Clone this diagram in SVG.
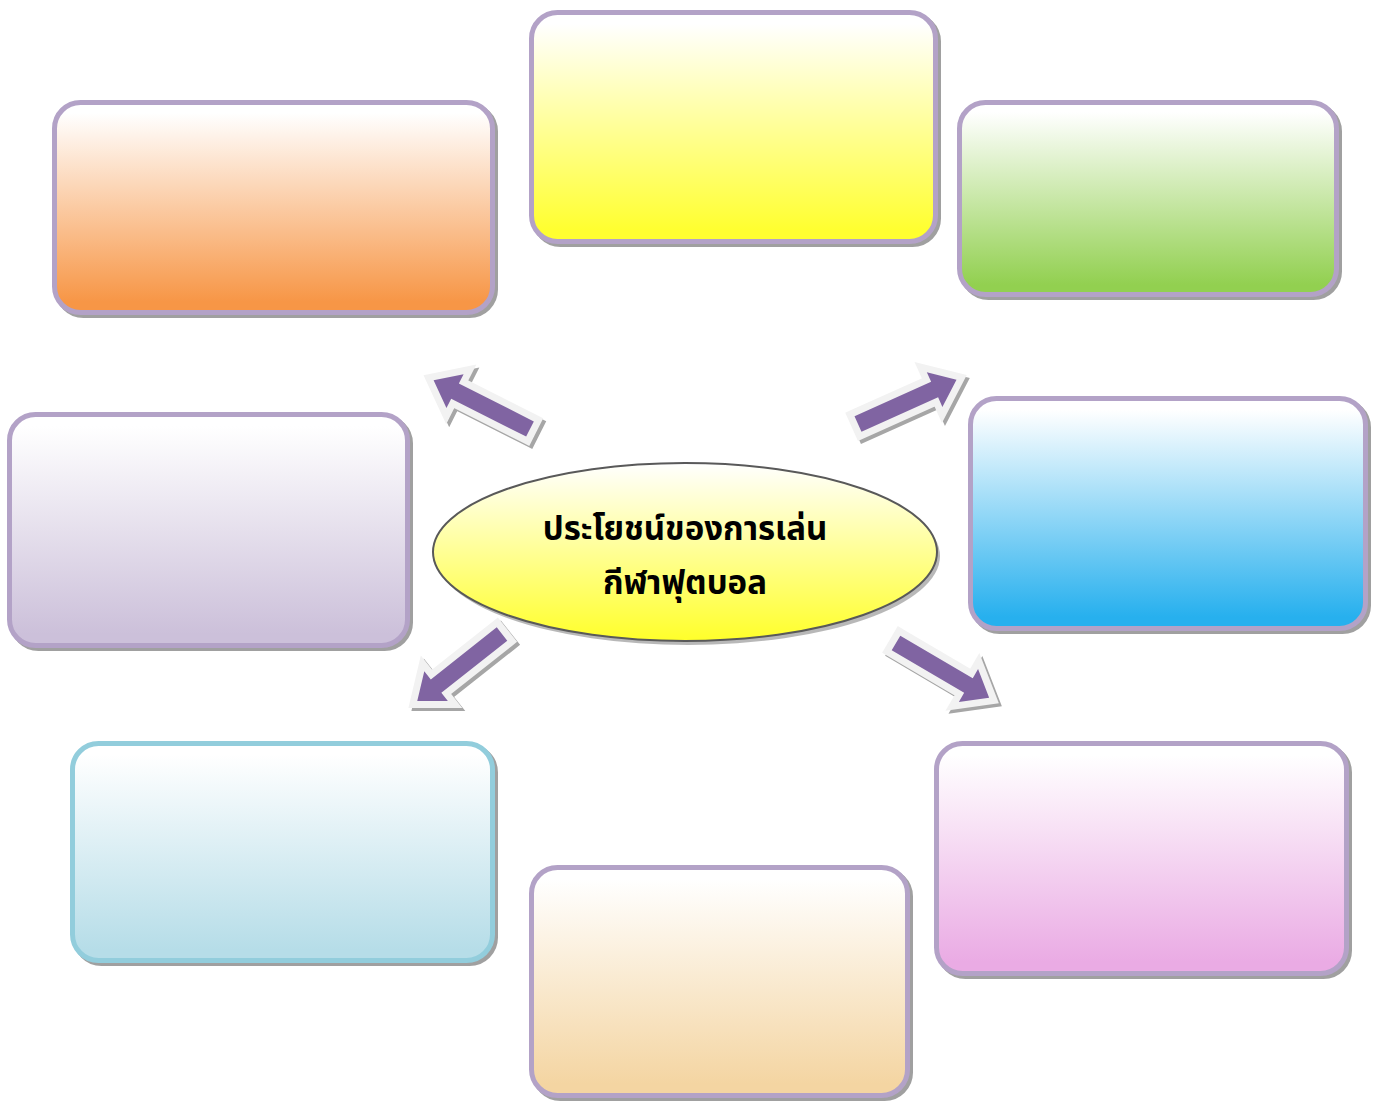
<svg xmlns="http://www.w3.org/2000/svg" xmlns:xlink="http://www.w3.org/1999/xlink" width="1378" height="1102" viewBox="0 0 1378 1102">
<style>
.box{stroke:#b3a2c7;stroke-width:5}
.shadow{fill:none;stroke:#a0a0a0;stroke-width:5}
.arrShadow{fill:#a6a6a6;stroke:#a6a6a6;stroke-width:14;stroke-linejoin:miter}
.arr{fill:#8064a2;stroke:#f2f2f2;stroke-width:14;stroke-linejoin:miter;paint-order:stroke}
.title{font-family:"Noto Sans Thai","Noto Sans Thai UI","Loma","Garuda","Tahoma","Noto Sans",sans-serif;font-weight:bold;font-size:33px;fill:#000;text-anchor:middle}
</style>
<defs>
<linearGradient id="gOrange" x1="0" y1="0" x2="0" y2="1"><stop offset="0.05" stop-color="#ffffff"/><stop offset="0.95" stop-color="#f79646"/></linearGradient>
<linearGradient id="gYellow" x1="0" y1="0" x2="0" y2="1"><stop offset="0.05" stop-color="#ffffff"/><stop offset="0.95" stop-color="#ffff30"/></linearGradient>
<linearGradient id="gGreen" x1="0" y1="0" x2="0" y2="1"><stop offset="0.05" stop-color="#ffffff"/><stop offset="0.95" stop-color="#92d050"/></linearGradient>
<linearGradient id="gLav" x1="0" y1="0" x2="0" y2="1"><stop offset="0.05" stop-color="#ffffff"/><stop offset="0.95" stop-color="#ccc0da"/></linearGradient>
<linearGradient id="gBlue" x1="0" y1="0" x2="0" y2="1"><stop offset="0.05" stop-color="#ffffff"/><stop offset="0.95" stop-color="#27b0ee"/></linearGradient>
<linearGradient id="gCyan" x1="0" y1="0" x2="0" y2="1"><stop offset="0.05" stop-color="#ffffff"/><stop offset="0.95" stop-color="#b6dde8"/></linearGradient>
<linearGradient id="gTan" x1="0" y1="0" x2="0" y2="1"><stop offset="0.05" stop-color="#ffffff"/><stop offset="0.95" stop-color="#f4d5a2"/></linearGradient>
<linearGradient id="gPink" x1="0" y1="0" x2="0" y2="1"><stop offset="0.05" stop-color="#ffffff"/><stop offset="0.95" stop-color="#eaabe4"/></linearGradient>
<linearGradient id="gEll" x1="0" y1="0" x2="0" y2="1"><stop offset="0" stop-color="#ffffff"/><stop offset="1" stop-color="#ffff2a"/></linearGradient>
<path id="arrowShape" d="M0,-8.5 L84,-8.5 L84,-19 L108,0 L84,19 L84,8.5 L0,8.5 Z"/>
</defs>

<g id="box-orange">
<rect class="shadow" x="57.5" y="105.5" width="438" height="210" rx="26"/>
<rect class="box" fill="url(#gOrange)" x="54.5" y="102.5" width="438" height="210" rx="26"/>
</g>
<g id="box-yellow">
<rect class="shadow" x="534.5" y="15.5" width="404" height="229" rx="26"/>
<rect class="box" fill="url(#gYellow)" x="531.5" y="12.5" width="404" height="229" rx="26"/>
</g>
<g id="box-green">
<rect class="shadow" x="962.5" y="105.5" width="377" height="192" rx="26"/>
<rect class="box" fill="url(#gGreen)" x="959.5" y="102.5" width="377" height="192" rx="26"/>
</g>
<g id="box-lavender">
<rect class="shadow" x="12.5" y="417.5" width="398" height="231" rx="26"/>
<rect class="box" fill="url(#gLav)" x="9.5" y="414.5" width="398" height="231" rx="26"/>
</g>
<g id="box-blue">
<rect class="shadow" x="973.5" y="401.5" width="395" height="230" rx="26"/>
<rect class="box" fill="url(#gBlue)" x="970.5" y="398.5" width="395" height="230" rx="26"/>
</g>
<g id="box-cyan">
<rect class="shadow" x="75.5" y="746.5" width="420" height="217" rx="26"/>
<rect class="box" style="stroke:#92cddc" fill="url(#gCyan)" x="72.5" y="743.5" width="420" height="217" rx="26"/>
</g>
<g id="box-tan">
<rect class="shadow" x="534.5" y="870.5" width="376" height="228" rx="26"/>
<rect class="box" fill="url(#gTan)" x="531.5" y="867.5" width="376" height="228" rx="26"/>
</g>
<g id="box-pink">
<rect class="shadow" x="939.5" y="746.5" width="410" height="230" rx="26"/>
<rect class="box" fill="url(#gPink)" x="936.5" y="743.5" width="410" height="230" rx="26"/>
</g>

<g id="connectors">
<g transform="translate(3,3)">
<use xlink:href="#arrowShape" class="arrShadow" transform="translate(530,429) rotate(206.8)"/>
<use xlink:href="#arrowShape" class="arrShadow" transform="translate(858,424) rotate(-24.2)"/>
<use xlink:href="#arrowShape" class="arrShadow" transform="translate(896,643) rotate(30.4)"/>
<use xlink:href="#arrowShape" class="arrShadow" transform="translate(502,634) rotate(141.7)"/>
</g>
<use xlink:href="#arrowShape" class="arr" transform="translate(530,429) rotate(206.8)"/>
<use xlink:href="#arrowShape" class="arr" transform="translate(858,424) rotate(-24.2)"/>
<use xlink:href="#arrowShape" class="arr" transform="translate(896,643) rotate(30.4)"/>
<use xlink:href="#arrowShape" class="arr" transform="translate(502,634) rotate(141.7)"/>
</g>

<g id="center">
<ellipse cx="688" cy="556" rx="252" ry="89" fill="#a6a6a6" opacity="0.8"/>
<ellipse cx="685" cy="552" rx="252" ry="89" fill="url(#gEll)" stroke="#595959" stroke-width="2"/>
<text class="title" x="685" y="540">ประโยชน์ของการเล่น</text>
<text class="title" x="685" y="594">กีฬาฟุตบอล</text>
</g>
</svg>
